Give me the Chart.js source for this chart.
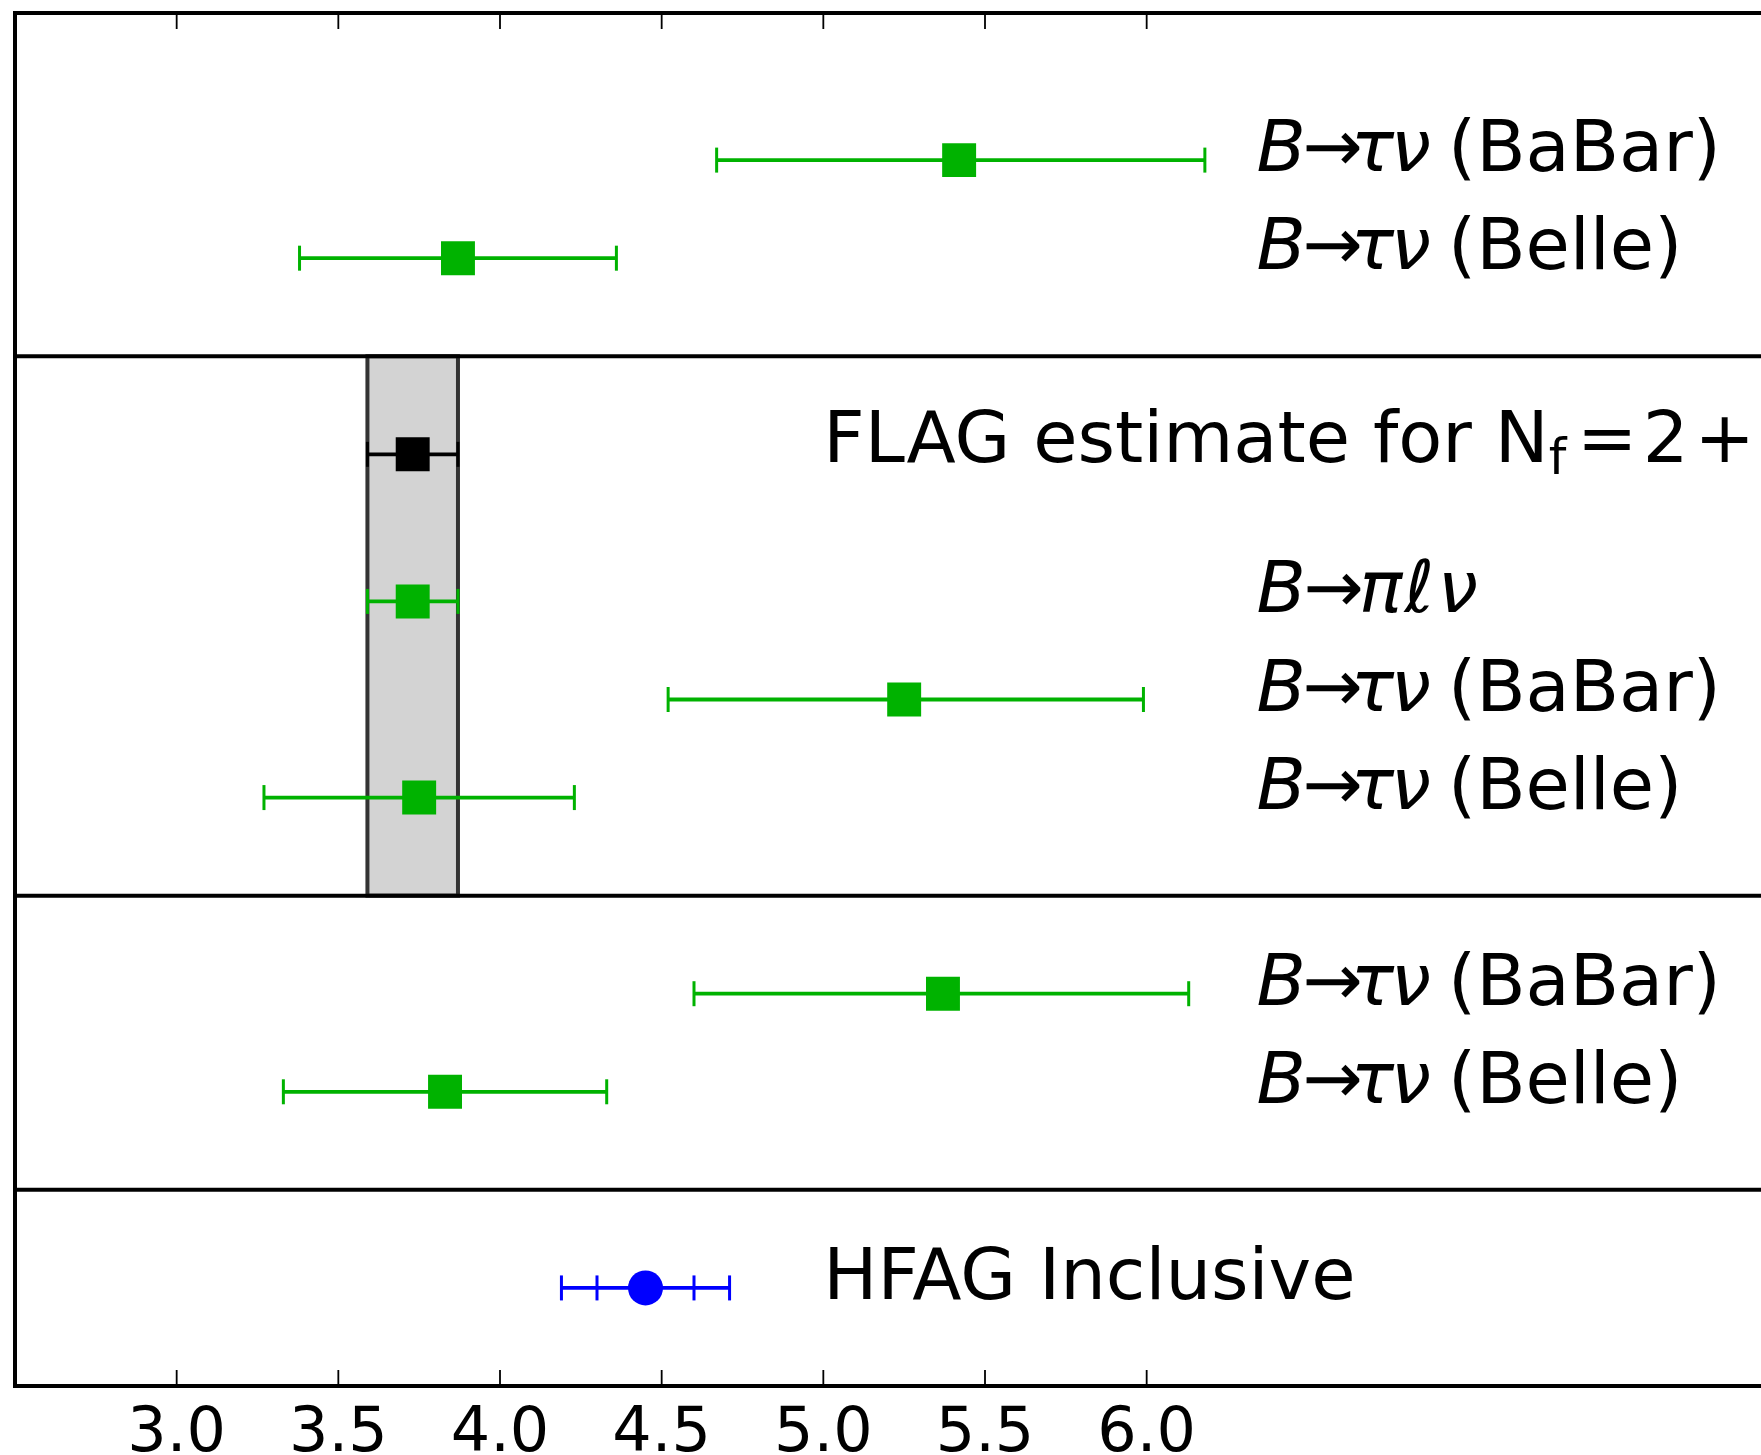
<!DOCTYPE html>
<html>
<head>
<meta charset="utf-8">
<script src="https://cdn.jsdelivr.net/npm/chart.js@4.4.1/dist/chart.umd.min.js"></script>
<style>
  html, body { margin: 0; padding: 0; background: #fff; overflow: hidden; }
  canvas { display: block; }
</style>
</head>
<body>
<canvas id="myChart" width="1761" height="1455" style="width:1761px;height:1455px"></canvas>
<script>
// one entry per row, top to bottom
const categories = ['BaBar', 'Belle', 'FLAG', 'Bpilnu', 'BaBar', 'Belle', 'BaBar', 'Belle', 'HFAG'];
const kinds      = ['exp', 'exp', 'flag', 'exp', 'exp', 'exp', 'exp', 'exp', 'incl'];
const rowPos     = [12.5, 11.5, 9.5, 8, 7, 6, 4, 3, 1];
const centres    = [5.42, 3.87, 3.73, 3.73, 5.25, 3.75, 5.37, 3.83, 4.45];
const errLow     = [4.67, 3.38, 3.59, 3.59, 4.52, 3.27, 4.60, 3.33, 4.19];
const errHigh    = [6.18, 4.36, 3.87, 3.87, 5.99, 4.23, 6.13, 4.33, 4.71];
const innerLow   = [null, null, null, null, null, null, null, null, 4.30];
const innerHigh  = [null, null, null, null, null, null, null, null, 4.60];

const flagBand      = [3.59, 3.87];
const flagBandRows  = [5, 10.5];
const sectionBreaks = [2, 5, 10.5];
const xTicks        = [3.0, 3.5, 4.0, 4.5, 5.0, 5.5, 6.0];

const GREEN = 'rgb(0,178,0)';
const kindColour = { exp: GREEN, flag: '#000000', incl: '#0000ff' };

function pointsOf(kind) {
  const out = [];
  kinds.forEach((k, i) => {
    if (k === kind) out.push({ x: centres[i], y: rowPos[i] });
  });
  return out;
}

const FONT = "'DejaVu Sans'";
const LBL = 72;

// label pieces: [text, italic?, advance factor]
function tauLabel(exp) {
  return [['B', 1, 0.93], ['\u2192', 0, 0.8], ['\u03c4', 1, 0.92], ['\u03bd', 1, 1], [' ', 0, 0.75], ['(' + exp + ')', 0, 1]];
}
const labelDefs = {
  BaBar:  { x: 6.34, parts: tauLabel('BaBar') },
  Belle:  { x: 6.34, parts: tauLabel('Belle') },
  Bpilnu: { x: 6.34, parts: [['B', 1, 0.95], ['\u2192', 0, 0.92], ['\u03c0', 1, 1.05], ['\u2113', 1, 1.12], ['\u03bd', 1, 1]] },
  FLAG:   { x: 5.0, flag: true },
  HFAG:   { x: 5.0, parts: [['HFAG Inclusive', 0, 1]] }
};

function drawParts(ctx, x, y, parts, extra) {
  parts.forEach(p => {
    ctx.font = (p[1] ? 'italic ' : '') + LBL + 'px ' + FONT;
    ctx.fillText(p[0], x, y);
    x += ctx.measureText(p[0]).width * p[2] + (extra || 0);
  });
  return x;
}

const decor = {
  id: 'decor',
  beforeDatasetsDraw(chart) {
    const { ctx, chartArea: a, scales: { x, y } } = chart;
    ctx.save();
    // FLAG band
    const bx0 = x.getPixelForValue(flagBand[0]), bx1 = x.getPixelForValue(flagBand[1]);
    const by0 = y.getPixelForValue(flagBandRows[1]), by1 = y.getPixelForValue(flagBandRows[0]);
    ctx.fillStyle = '#d3d3d3';
    ctx.fillRect(bx0, by0, bx1 - bx0, by1 - by0);
    ctx.strokeStyle = '#333333';
    ctx.lineWidth = 4;
    ctx.strokeRect(bx0, by0, bx1 - bx0, by1 - by0);

    // section lines
    ctx.strokeStyle = '#000';
    ctx.lineWidth = 4;
    sectionBreaks.forEach(v => {
      const py = y.getPixelForValue(v);
      ctx.beginPath(); ctx.moveTo(a.left, py); ctx.lineTo(a.right, py); ctx.stroke();
    });

    // error bars
    centres.forEach((c, i) => {
      const py = y.getPixelForValue(rowPos[i]);
      const x0 = x.getPixelForValue(errLow[i]), x1 = x.getPixelForValue(errHigh[i]);
      ctx.strokeStyle = kindColour[kinds[i]];
      ctx.lineWidth = 3.8;
      ctx.beginPath(); ctx.moveTo(x0, py); ctx.lineTo(x1, py); ctx.stroke();
      ctx.lineWidth = 3;
      const caps = [x0, x1];
      if (innerLow[i] != null) caps.push(x.getPixelForValue(innerLow[i]), x.getPixelForValue(innerHigh[i]));
      caps.forEach(cx => {
        ctx.beginPath(); ctx.moveTo(cx, py - 12.5); ctx.lineTo(cx, py + 12.5); ctx.stroke();
      });
    });
    ctx.restore();
  },
  afterDraw(chart) {
    const { ctx, chartArea: a, scales: { x, y } } = chart;
    ctx.save();
    // frame (right side is cut off)
    ctx.strokeStyle = '#000';
    ctx.lineWidth = 4;
    ctx.beginPath();
    ctx.moveTo(a.right, a.top); ctx.lineTo(a.left, a.top);
    ctx.lineTo(a.left, a.bottom); ctx.lineTo(a.right, a.bottom);
    ctx.stroke();
    // inward ticks top and bottom
    ctx.lineWidth = 1.8;
    xTicks.forEach(v => {
      const px = x.getPixelForValue(v);
      ctx.beginPath();
      ctx.moveTo(px, a.bottom); ctx.lineTo(px, a.bottom - 16);
      ctx.moveTo(px, a.top); ctx.lineTo(px, a.top + 16);
      ctx.stroke();
    });

    // row labels
    ctx.fillStyle = '#000';
    ctx.textBaseline = 'alphabetic';
    ctx.textAlign = 'left';
    categories.forEach((c, i) => {
      const d = labelDefs[c];
      const px = x.getPixelForValue(d.x);
      const py = y.getPixelForValue(rowPos[i]) + 11;
      if (d.flag) {
        const ty = py - 3;
        let cx = drawParts(ctx, px, ty, [['FLAG estimate for N', 0, 1]]);
        ctx.font = '50px ' + FONT;
        ctx.fillText('f', cx, ty + 12);
        cx += ctx.measureText('f').width + 0.15 * LBL;
        drawParts(ctx, cx, ty, [['=', 0, 1.03], ['2', 0, 1.05], ['+', 0, 1.05], ['1', 0, 1]], 0.05 * LBL);
      } else {
        drawParts(ctx, px, py, d.parts);
      }
    });
    ctx.restore();
  }
};

const ctx = document.getElementById('myChart').getContext('2d');

new Chart(ctx, {
  type: 'scatter',
  data: {
    datasets: [
      {
        label: 'experiments',
        data: pointsOf('exp'),
        pointStyle: 'rect',
        pointRadius: 24,
        backgroundColor: GREEN,
        borderWidth: 0
      },
      {
        label: 'FLAG',
        data: pointsOf('flag'),
        pointStyle: 'rect',
        pointRadius: 24,
        backgroundColor: '#000000',
        borderWidth: 0
      },
      {
        label: 'HFAG',
        data: pointsOf('incl'),
        pointStyle: 'circle',
        pointRadius: 17.5,
        backgroundColor: '#0000ff',
        borderWidth: 0
      }
    ]
  },
  options: {
    responsive: false,
    animation: false,
    events: [],
    layout: { autoPadding: false, padding: { left: 15, top: 13, right: 0, bottom: 0 } },
    plugins: { legend: { display: false }, tooltip: { enabled: false } },
    scales: {
      x: {
        type: 'linear',
        min: 2.5,
        max: 7.9,
        grid: { display: false },
        border: { display: false },
        afterBuildTicks: axis => { axis.ticks = xTicks.map(v => ({ value: v })); },
        afterFit: axis => { axis.height = 69; },
        ticks: {
          autoSkip: false,
          maxRotation: 0,
          padding: 4,
          color: '#000',
          font: { family: 'DejaVu Sans', size: 62 },
          callback: v => Number(v).toFixed(1)
        }
      },
      y: {
        type: 'linear',
        min: 0,
        max: 14,
        display: false
      }
    }
  },
  plugins: [decor]
});
</script>
</body>
</html>
